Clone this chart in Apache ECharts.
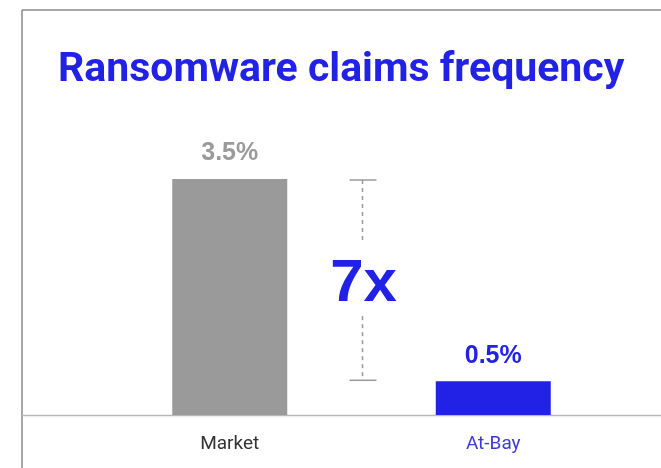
<!DOCTYPE html>
<html>
<head>
<meta charset="utf-8">
<script src="https://cdn.jsdelivr.net/npm/echarts@6/dist/echarts.min.js"></script>
<style>
html, body { margin: 0; padding: 0; background: #fff; }
#chart { width: 661px; height: 468px; }
</style>
</head>
<body>
<div id="chart"></div>
<script>
var categories = ['Market', 'At-Bay'];
var values = [3.5, 0.5];
var valueLabels = ['3.5%', '0.5%'];
var ratioLabel = '7x';

var blue = '#2222e6';
var grey = '#9a9a9a';

var chart = echarts.init(document.getElementById('chart'));

var option = {
    backgroundColor: '#fff',
    animation: false,
    title: {
        text: 'Ransomware claims frequency',
        left: 53,
        top: 45,
        textStyle: {
            fontFamily: 'Roboto',
            fontWeight: 'bold',
            fontSize: 41,
            color: blue
        }
    },
    graphic: [
        // frame round the card
        { type: 'line', shape: { x1: 22, y1: 10, x2: 661, y2: 10 }, style: { stroke: '#8a8a8a', lineWidth: 1.5 } },
        { type: 'line', shape: { x1: 22, y1: 10, x2: 22, y2: 468 }, style: { stroke: '#8a8a8a', lineWidth: 1.5 } },
        // baseline
        { type: 'line', shape: { x1: 22, y1: 415.5, x2: 661, y2: 415.5 }, style: { stroke: '#b8b8b8', lineWidth: 1.5 } }
    ],
    grid: { left: 98, right: 36, top: 179, bottom: 53 },
    xAxis: {
        type: 'category',
        data: categories,
        axisLine: { show: false },
        axisTick: { show: false },
        axisLabel: {
            margin: 20,
            formatter: function (v, i) {
                return i === 1 ? '{b|' + v + '}' : '{a|' + v + '}';
            },
            rich: {
                a: { color: '#333', fontFamily: 'Roboto', fontSize: 19 },
                b: { color: '#3b3bd6', fontFamily: 'Roboto', fontSize: 19 }
            }
        }
    },
    yAxis: {
        type: 'value',
        min: 0,
        max: 3.5,
        show: false
    },
    series: [
        {
            type: 'bar',
            barWidth: 115,
            data: values.map(function (v, i) {
                return {
                    value: v,
                    itemStyle: { color: i === 0 ? grey : blue },
                    label: { color: i === 0 ? '#9a9a9a' : blue }
                };
            }),
            label: {
                show: true,
                position: 'top',
                distance: 13,
                fontFamily: 'Liberation Sans',
                fontWeight: 'bold',
                fontSize: 25,
                formatter: function (p) { return valueLabels[p.dataIndex]; }
            }
        },
        {
            type: 'custom',
            data: [[values[0], values[1]]],
            renderItem: function (params, api) {
                var hi = api.coord([0, api.value(0)]);
                var lo = api.coord([1, api.value(1)]);
                var x = Math.round((hi[0] + lo[0]) / 2) + 0.5;
                var yTop = hi[1] + 1, yBot = lo[1] - 1;
                var yMid = (yTop + yBot) / 2 + 2;
                var lineStyle = { stroke: '#999', lineWidth: 1.5 };
                var dashStyle = { stroke: '#999', lineWidth: 1.5, lineDash: [4, 4] };
                return {
                    type: 'group',
                    children: [
                        { type: 'line', shape: { x1: x - 13, y1: yTop, x2: x + 14, y2: yTop }, style: lineStyle },
                        { type: 'line', shape: { x1: x, y1: yTop, x2: x, y2: yMid - 42 }, style: dashStyle },
                        {
                            type: 'text',
                            x: x + 1,
                            y: yMid + 2,
                            style: {
                                text: ratioLabel,
                                fill: blue,
                                fontFamily: 'Liberation Sans',
                                fontWeight: 'bold',
                                fontSize: 60,
                                align: 'center',
                                verticalAlign: 'middle'
                            }
                        },
                        { type: 'line', shape: { x1: x, y1: yMid + 34, x2: x, y2: yBot }, style: dashStyle },
                        { type: 'line', shape: { x1: x - 13, y1: yBot, x2: x + 14, y2: yBot }, style: lineStyle }
                    ]
                };
            }
        }
    ]
};

chart.setOption(option);
</script>
</body>
</html>
